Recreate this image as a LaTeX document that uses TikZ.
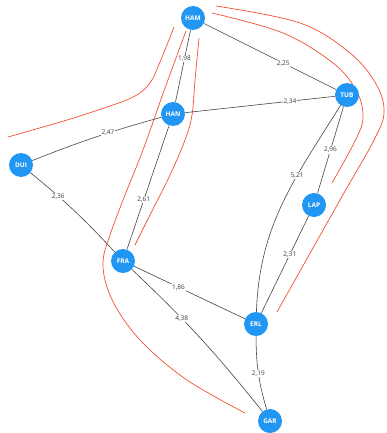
\documentclass[tikz,border=0pt]{standalone}
\usepackage{fontspec}
\setmainfont{Open Sans}
\begin{document}
\begin{tikzpicture}[x=1pt,y=-1pt,
  city/.style={circle,fill=cityblue,minimum size=24pt,inner sep=0pt,
    text=white,font=\fontsize{6.5}{7}\selectfont\bfseries},
  road/.style={draw=roadgray,line width=0.6pt},
  weight/.style={fill=white,inner sep=0.8pt,text=labelgray,
    font=\fontsize{6.5}{7}\selectfont},
  border/.style={draw=borderred,line width=0.7pt}]
\definecolor{cityblue}{RGB}{33,150,243}
\definecolor{roadgray}{RGB}{70,70,70}
\definecolor{labelgray}{RGB}{60,60,60}
\definecolor{borderred}{RGB}{244,81,50}
\useasboundingbox[fill=white] (0,0) rectangle (386,433);

% partition boundaries
\draw[border] plot[smooth,tension=0.6] coordinates
  {(174,27) (160,62) (150,83) (135,96) (110,106) (67,120) (8,137)};
\draw[border] plot[smooth,tension=0.6] coordinates
  {(186,31) (165,88) (143,150) (125,195) (110,235) (103,262) (108,290)
   (124,320) (150,350) (190,382) (245,413)};
\draw[border] plot[smooth,tension=0.6] coordinates
  {(199,38) (195,80) (192,115) (185,140) (170,175) (150,215) (135,245)};
\draw[border] plot[smooth,tension=0.6] coordinates
  {(216,6) (300,23) (350,53) (376,84) (384,112) (374,140) (340,200) (277,312)};
\draw[border] plot[smooth,tension=0.6] coordinates
  {(212,13) (283,33) (333,63) (356,90) (363,115) (357,137) (332,183)};

% cities
\node[city] (HAM) at (193,18) {HAM};
\node[city] (HAN) at (173,114) {HAN};
\node[city] (TUB) at (347,95) {TUB};
\node[city] (DUI) at (21,165) {DUI};
\node[city] (LAP) at (314,205) {LAP};
\node[city] (FRA) at (123,261) {FRA};
\node[city] (ERL) at (256,324) {ERL};
\node[city] (GAR) at (270,421) {GAR};

% roads with distances
\draw[road] (HAM) -- node[weight,pos=0.4] {1,98} (HAN);
\draw[road] (HAM) -- node[weight,pos=0.6] {2,25} (TUB);
\draw[road] (HAN) -- node[weight,pos=0.7] {2,34} (TUB);
\draw[road] (HAN) to[bend right=3] node[weight,pos=0.4] {2,47} (DUI);
\draw[road] (HAN) -- node[weight,pos=0.6] {2,61} (FRA);
\draw[road] (DUI) to[bend left=4] node[weight,pos=0.3] {2,36} (FRA);
\draw[road] (TUB) -- node[weight,pos=0.5] {2,96} (LAP);
\draw[road] (TUB) to[out=-122,in=88] node[weight,pos=0.35] {5,21} (ERL);
\draw[road] (LAP) -- node[weight,pos=0.4] {2,31} (ERL);
\draw[road] (FRA) -- node[weight,pos=0.4] {1,86} (ERL);
\draw[road] (FRA) to[bend left=4] node[weight,pos=0.35] {4,38} (GAR);
\draw[road] (ERL) to[bend right=8] node[weight,pos=0.5] {2,19} (GAR);
\end{tikzpicture}
\end{document}
